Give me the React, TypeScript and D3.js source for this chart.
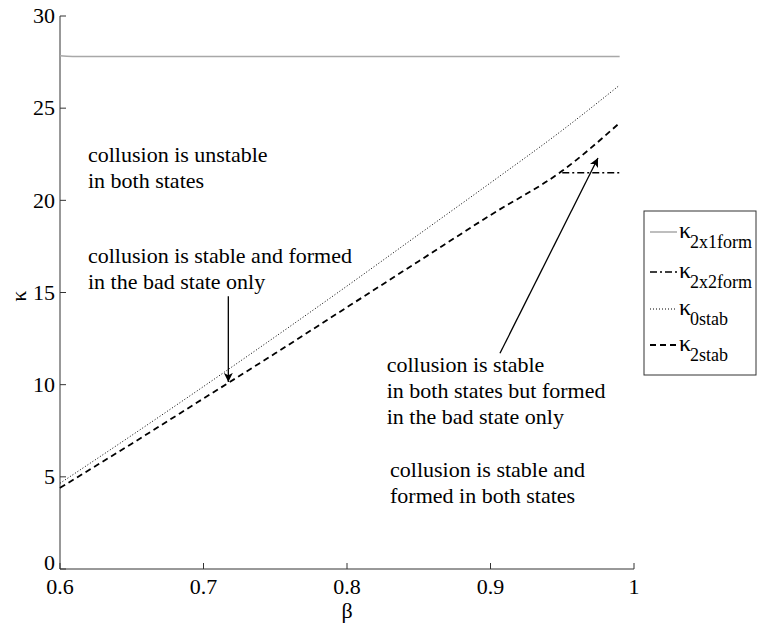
import React from 'react';
import * as d3 from 'd3';

// beta grid and the curves
const betaGrid = [0.6, 0.65, 0.7, 0.75, 0.8, 0.85, 0.9, 0.95, 0.99];
const k0stab = [4.65, 7.25, 9.9, 12.6, 15.35, 18.15, 20.95, 23.8, 26.25];
const k2stab = [4.4, 6.8, 9.25, 11.7, 14.2, 16.7, 19.2, 21.6, 24.2];
const k2x1formBeta = [0.6, 0.615, 0.99];
const k2x1form = [27.85, 27.8, 27.8];
const k2x2formBeta = [0.95, 0.99];
const k2x2form = [21.5, 21.5];

const xTicks = [0.6, 0.7, 0.8, 0.9, 1];
const xTickLabels = ['0.6', '0.7', '0.8', '0.9', '1'];
const yTicks = [0, 5, 10, 15, 20, 25, 30];

const notes = [
    { b: 0.6195, k: 22.1, lines: ['collusion is unstable', 'in both states'] },
    { b: 0.6195, k: 16.6, lines: ['collusion is stable and formed', 'in the bad state only'] },
    { b: 0.8277, k: 10.7, lines: ['collusion is stable', 'in both states but formed', 'in the bad state only'] },
    { b: 0.83, k: 5.0, lines: ['collusion is stable and', 'formed in both states'] }
];
const arrows = [
    { b0: 0.7173, k0: 14.8, b1: 0.7173, k1: 10.15 },
    { b0: 0.9066, k0: 11.7, b1: 0.9749, k1: 22.3 }
];

const legendItems = [
    { sub: '2x1form', stroke: '#a8a8a8', dash: null, width: 1.5 },
    { sub: '2x2form', stroke: '#000', dash: '7,3,2,3', width: 1.5 },
    { sub: '0stab', stroke: '#000', dash: '1,2', width: 1 },
    { sub: '2stab', stroke: '#000', dash: '6,4', width: 1.8 }
];

const font = 'Times New Roman, Liberation Serif, Tinos, DejaVu Serif, Noto Serif, serif';

export default function App() {
    const W = 763;
    const H = 626;

    const x = d3.scaleLinear().domain([0.6, 1]).range([60, 634]);
    const y = d3.scaleLinear().domain([0, 30]).range([569, 16]);

    const line = d3.line<[number, number]>()
        .curve(d3.curveMonotoneX)
        .x((d) => x(d[0]))
        .y((d) => y(d[1]));

    const zip = (bs: number[], ks: number[]) => bs.map((b, i) => [b, ks[i]] as [number, number]);

    const series = [
        { d: zip(k2x1formBeta, k2x1form), ...legendItems[0] },
        { d: zip(k2x2formBeta, k2x2form), ...legendItems[1] },
        { d: zip(betaGrid, k0stab), ...legendItems[2] },
        { d: zip(betaGrid, k2stab), ...legendItems[3] }
    ];

    const legend = { x: 644, y: 211, w: 112, h: 164, rowY: [232, 272, 309, 345] };

    return (
        <svg width={W} height={H} style={{ position: 'absolute', left: 0, top: 0, background: '#fff' }}
            fontFamily={font}>
            <defs>
                <marker id="ah" viewBox="0 0 10 10" refX="10" refY="5" markerWidth="9" markerHeight="9"
                    markerUnits="userSpaceOnUse" orient="auto">
                    <path d="M0,0 L10,5 L0,10 L2.5,5 Z" fill="#000" />
                </marker>
            </defs>
            <rect width={W} height={H} fill="#fff" />

            {/* axes */}
            <line x1={x(0.6)} x2={x(0.6)} y1={y(0)} y2={y(30)} stroke="#333" />
            <line x1={x(0.6)} x2={x(1)} y1={y(0)} y2={y(0)} stroke="#333" />
            {yTicks.map((t) => (
                <g key={'y' + t}>
                    <line x1={x(0.6)} x2={x(0.6) + 6} y1={y(t)} y2={y(t)} stroke="#333" />
                    <text x={55} y={y(t) - (t === 0 ? 6 : 0)} dy="0.33em" textAnchor="end" fontSize={22}>{t}</text>
                </g>
            ))}
            {xTicks.map((t, i) => (
                <g key={'x' + t}>
                    <line x1={x(t)} x2={x(t)} y1={y(0)} y2={y(0) - 6} stroke="#333" />
                    <text x={x(t)} y={594} textAnchor="middle" fontSize={22}>{xTickLabels[i]}</text>
                </g>
            ))}
            <text x={x(0.8)} y={618} textAnchor="middle" fontSize={22}>β</text>
            <text transform={`translate(26, ${y(14.8)}) rotate(-90)`} textAnchor="middle" fontSize={22}>κ</text>

            {/* curves */}
            {series.map((s, i) => (
                <path key={i} d={line(s.d) || ''} fill="none" stroke={s.stroke}
                    strokeWidth={s.width} strokeDasharray={s.dash || undefined} />
            ))}

            {/* annotations */}
            {notes.map((n, i) => (
                <text key={'n' + i} x={x(n.b)} y={y(n.k)} fontSize={22}>
                    {n.lines.map((l, j) => (
                        <tspan key={j} x={x(n.b)} dy={j === 0 ? 0 : 26}>{l}</tspan>
                    ))}
                </text>
            ))}
            {arrows.map((a, i) => (
                <line key={'a' + i} x1={x(a.b0)} y1={y(a.k0)} x2={x(a.b1)} y2={y(a.k1)}
                    stroke="#000" strokeWidth={1.3} markerEnd="url(#ah)" />
            ))}

            {/* legend */}
            <rect x={legend.x} y={legend.y} width={legend.w} height={legend.h} fill="#fff" stroke="#333" />
            {legendItems.map((it, i) => (
                <g key={'l' + i}>
                    <line x1={650} x2={677} y1={legend.rowY[i]} y2={legend.rowY[i]} stroke={it.stroke}
                        strokeWidth={it.width} strokeDasharray={it.dash || undefined} />
                    <text x={679} y={legend.rowY[i] + 6} fontSize={24}>κ</text>
                    <text x={690} y={legend.rowY[i] + 16} fontSize={18}>{it.sub}</text>
                </g>
            ))}
        </svg>
    );
}
